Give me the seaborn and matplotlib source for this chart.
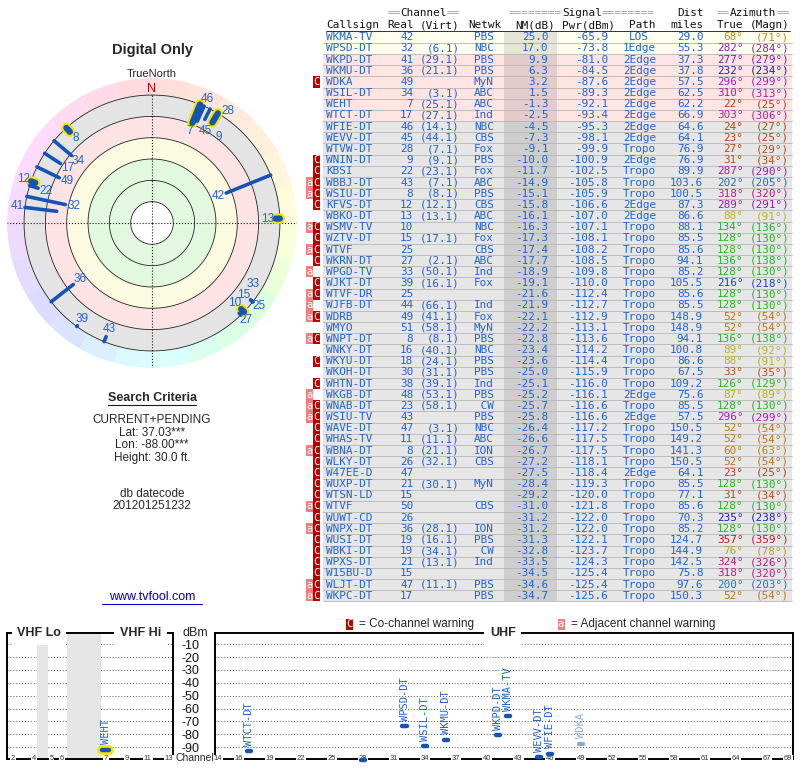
import colorsys

import matplotlib
matplotlib.use("Agg")
import matplotlib.pyplot as plt
import numpy as np
import seaborn as sns
from matplotlib.patches import Rectangle
from matplotlib.transforms import blended_transform_factory

# ---- station table ----
callsigns = ["WKMA-TV", "WPSD-DT", "WKPD-DT", "WKMU-DT", "WDKA", "WSIL-DT", "WEHT", "WTCT-DT",
             "WFIE-DT", "WEVV-DT", "WTVW-DT", "WNIN-DT", "KBSI", "WBBJ-DT", "WSIU-DT", "KFVS-DT",
             "WBKO-DT", "WSMV-TV", "WZTV-DT", "WTVF", "WKRN-DT", "WPGD-TV", "WJKT-DT", "WTVF-DR",
             "WJFB-DT", "WDRB", "WMYO", "WNPT-DT", "WNKY-DT", "WKYU-DT", "WKOH-DT", "WHTN-DT",
             "WKGB-DT", "WNAB-DT", "WSIU-TV", "WAVE-DT", "WHAS-TV", "WBNA-DT", "WLKY-DT", "W47EE-D",
             "WUXP-DT", "WTSN-LD", "WTVF", "WUWT-CD", "WNPX-DT", "WUSI-DT", "WBKI-DT", "WPXS-DT",
             "W15BU-D", "WLJT-DT", "WKPC-DT"]
real_ch = [42, 32, 41, 36, 49, 34, 7, 17, 46, 45, 28, 9, 22, 43, 8, 12, 13, 10, 15, 25,
           27, 33, 39, 25, 44, 49, 51, 8, 16, 18, 30, 38, 48, 23, 43, 47, 11, 8, 26, 47,
           21, 15, 50, 26, 36, 19, 19, 21, 15, 47, 17]
virt_ch = ["", "6.1", "29.1", "21.1", "", "3.1", "25.1", "27.1", "14.1", "44.1",
           "7.1", "9.1", "23.1", "7.1", "8.1", "12.1", "13.1", "", "17.1", "",
           "2.1", "50.1", "16.1", "", "66.1", "41.1", "58.1", "8.1", "40.1", "24.1",
           "31.1", "39.1", "53.1", "58.1", "", "3.1", "11.1", "21.1", "32.1", "",
           "30.1", "", "", "", "28.1", "16.1", "34.1", "13.1", "", "11.1", ""]
networks = ["PBS", "NBC", "PBS", "PBS", "MyN", "ABC", "ABC", "Ind", "NBC", "CBS",
            "Fox", "PBS", "Fox", "ABC", "PBS", "CBS", "ABC", "NBC", "Fox", "CBS",
            "ABC", "Ind", "Fox", "", "Ind", "Fox", "MyN", "PBS", "NBC", "PBS",
            "PBS", "Ind", "PBS", "CW", "PBS", "NBC", "ABC", "ION", "CBS", "",
            "MyN", "", "CBS", "", "ION", "PBS", "CW", "Ind", "", "PBS", "PBS"]
nm_db = [25.0, 17.0, 9.9, 6.3, 3.2, 1.5, -1.3, -2.5, -4.5, -7.3,
         -9.1, -10.0, -11.7, -14.9, -15.1, -15.8, -16.1, -16.3, -17.3, -17.4,
         -17.7, -18.9, -19.1, -21.6, -21.9, -22.1, -22.2, -22.8, -23.4, -23.6,
         -25.0, -25.1, -25.2, -25.7, -25.8, -26.4, -26.6, -26.7, -27.2, -27.5,
         -28.4, -29.2, -31.0, -31.2, -31.2, -31.3, -32.8, -33.5, -34.5, -34.6, -34.7]
pwr_dbm = [-65.9, -73.8, -81.0, -84.5, -87.6, -89.3, -92.1, -93.4, -95.3, -98.1,
           -99.9, -100.9, -102.5, -105.8, -105.9, -106.6, -107.0, -107.1, -108.1, -108.2,
           -108.5, -109.8, -110.0, -112.4, -112.7, -112.9, -113.1, -113.6, -114.2, -114.4,
           -115.9, -116.0, -116.1, -116.6, -116.6, -117.2, -117.5, -117.5, -118.1, -118.4,
           -119.3, -120.0, -121.8, -122.0, -122.0, -122.1, -123.7, -124.3, -125.4, -125.4, -125.6]
paths = ["LOS", "1Edge", "2Edge", "2Edge", "2Edge", "2Edge", "2Edge", "2Edge", "2Edge", "2Edge",
         "Tropo", "2Edge", "Tropo", "Tropo", "Tropo", "2Edge", "2Edge", "Tropo", "Tropo", "Tropo",
         "Tropo", "Tropo", "Tropo", "Tropo", "Tropo", "Tropo", "Tropo", "Tropo", "Tropo", "Tropo",
         "Tropo", "Tropo", "2Edge", "Tropo", "2Edge", "Tropo", "Tropo", "Tropo", "Tropo", "2Edge",
         "Tropo", "Tropo", "Tropo", "Tropo", "Tropo", "Tropo", "Tropo", "Tropo", "Tropo", "Tropo", "Tropo"]
dist_miles = [29.0, 55.3, 37.3, 37.8, 57.5, 62.5, 62.2, 66.9, 64.6, 64.1,
              76.9, 76.9, 89.9, 103.6, 100.5, 87.3, 86.6, 88.1, 85.5, 85.6,
              94.1, 85.2, 105.5, 85.6, 85.5, 148.9, 148.9, 94.1, 100.8, 86.6,
              67.5, 109.2, 75.6, 85.5, 57.5, 150.5, 149.2, 141.3, 150.5, 64.1,
              85.5, 77.1, 85.6, 70.3, 85.2, 124.7, 144.9, 142.5, 75.8, 97.6, 150.3]
az_true = [68, 282, 277, 232, 296, 310, 22, 303, 24, 23,
           27, 31, 287, 202, 318, 289, 88, 134, 128, 128,
           136, 128, 216, 128, 128, 52, 52, 136, 89, 88,
           33, 126, 87, 128, 296, 52, 52, 60, 52, 23,
           128, 31, 128, 235, 128, 357, 76, 324, 318, 200, 52]
az_magn = [71, 284, 279, 234, 299, 313, 25, 306, 27, 25,
           29, 34, 290, 205, 320, 291, 91, 136, 130, 130,
           138, 130, 218, 130, 130, 54, 54, 138, 92, 91,
           35, 129, 89, 130, 299, 54, 54, 63, 54, 25,
           130, 34, 130, 238, 130, 359, 78, 326, 320, 203, 54]
flags = ["", "", "", "", "C", "", "", "", "", "",
         "", "C", "C", "aC", "aC", "C", "", "aC", "C", "aC",
         "C", "a", "C", "aC", "a", "aC", "", "aC", "", "C",
         "", "C", "a", "aC", "aC", "C", "C", "aC", "C", "C",
         "C", "C", "aC", "C", "aC", "C", "C", "C", "C", "aC", "aC"]

vhf_ticks = [2, 4, 5, 6, 7, 9, 11, 13]
uhf_ticks = [14, 16, 19, 22, 25, 28, 31, 34, 37, 40, 43, 46, 49, 52, 55, 58, 61, 64, 67, 69]
dbm_ticks = [-90, -80, -70, -60, -50, -40, -30, -20, -10]

sns.set_theme(style="white")
plt.rcParams["font.family"] = ["Liberation Sans", "DejaVu Sans"]
MONO = "DejaVu Sans Mono"
TXT_BLUE = "#2163cf"
MARK = "#1553b6"
W, H = 800, 768
CHAR_W = 0.602 * 7.9 * 100 / 72  # width of one mono glyph in px
PX_PER_R = 145 / 136  # polar radial unit in px


def px_rect(x0, y0, x1, y1):
    return [x0 / W, 1 - y1 / H, (x1 - x0) / W, (y1 - y0) / H]


def az_color(az, s=0.85, v=0.72):
    h = np.interp(az % 360, [0, 90, 130, 230, 300, 360], [0, 60, 120, 240, 300, 360]) / 360
    return colorsys.hsv_to_rgb(h, s, v)


def vhf_pos(ch):
    # channel centre in MHz, with the FM/air band squeezed out
    if ch <= 4:
        return 57 + 6 * (ch - 2)
    if ch <= 6:
        return 79 + 6 * (ch - 5)
    return 110 + 6 * (ch - 7)


fig = plt.figure(figsize=(W / 100, H / 100), dpi=100)

# ---- polar plot ----
pol = fig.add_axes(px_rect(7, 78, 297, 368), projection="polar")
pol.set_theta_zero_location("N")
pol.set_theta_direction(-1)
pol.axis("off")
seg = np.arange(0, 360, 15)
pol.bar(np.radians(seg + 7.5), 16, width=np.radians(15), bottom=120,
        color=[az_color(a + 7.5, 0.14, 1.0) for a in seg], linewidth=0)
for lo, hi, c in [(100, 120, "#e4e4e4"), (80, 100, "#fde3e3"), (60, 80, "#fbfbe1"),
                  (20, 60, "#e3f9df"), (0, 20, "white")]:
    pol.bar(0, hi - lo, width=2 * np.pi, bottom=lo, color=c, linewidth=0)
ring = np.linspace(0, 2 * np.pi, 361)
for r in (20, 40, 60, 80, 100, 120):
    pol.plot(ring, np.full_like(ring, r), color="#222222", lw=0.6)
pol.plot([0, 0], [0, 121], ls=":", color="k", lw=0.8)
for deg in (90, 180, 270):
    pol.plot([np.radians(deg)] * 2, [0, 136], ls=":", color="k", lw=0.8)
pol.text(0, 126, "N", color="#cc0000", ha="center", va="center", fontsize=9)

placed = []  # label boxes in px around the centre: (x, y, half width)
for i, nm in enumerate(nm_db):
    if nm <= -20:
        continue
    th = np.radians(az_true[i])
    r_in = 100 - nm
    if real_ch[i] <= 13:
        pol.plot([th, th], [120, r_in], color="#f5e400", lw=7.5, solid_capstyle="round", zorder=4)
        pol.plot([th, th], [120, r_in], color=MARK, lw=4.5, solid_capstyle="round", zorder=5)
    else:
        pol.plot([th, th], [120, r_in], color=MARK, lw=2.6, solid_capstyle="round", zorder=5)
    # keep crowded labels apart: try inside the end, then outside the ring, then sideways
    lab = str(real_ch[i])
    hw = 2.4 * len(lab)
    cands = [(r_in - 8, 0), (127, 0), (r_in - 8, 7), (127, 7), (r_in - 8, -7), (127, -7),
             (r_in - 17, 0), (r_in - 17, 8)]
    for rr, dth in cands:
        t = th + np.radians(dth)
        x, y = rr * PX_PER_R * np.sin(t), rr * PX_PER_R * np.cos(t)
        if all(abs(x - px) > hw + phw or abs(y - py) > 7 for px, py, phw in placed):
            break
    placed.append((x, y, hw))
    pol.text(t, rr, lab, color=TXT_BLUE, ha="center", va="center", fontsize=8.5, zorder=6)
pol.set_ylim(0, 136)

# ---- channel plots ----
ax_v = fig.add_axes(px_rect(7, 633, 173, 759))
ax_u = fig.add_axes(px_rect(215, 633, 793, 759))
ax_v.set_xlim(53.6, 148.4)
ax_u.set_xlim(13.71, 69.48)
for ax in (ax_v, ax_u):
    ax.set_ylim(-99.3, -1.2)
    ax.set_yticks(dbm_ticks)
    ax.set_xticks([])
    ax.grid(axis="y", color="#555555", ls=(0, (1, 2)), lw=0.7)
    ax.tick_params(length=0)
    for s in ax.spines.values():
        s.set_visible(True)
        s.set_color("black")
        s.set_linewidth(1.4)
ax_v.set_yticklabels([])
ax_u.set_yticklabels([str(v) for v in dbm_ticks])
ax_u.tick_params(axis="y", pad=11, labelsize=9, labelcolor="#111111")
ax_v.axvspan(71, 77, color="#e6e6e6", zorder=1, lw=0)
ax_v.axvspan(88, 107, color="#e6e6e6", zorder=1, lw=0)

for ax, ticks, pos in ((ax_v, vhf_ticks, vhf_pos), (ax_u, uhf_ticks, lambda c: c)):
    tr = blended_transform_factory(ax.transData, ax.transAxes)
    for ch in ticks:
        ax.text(pos(ch), 0, str(ch), transform=tr, ha="center", va="center", fontsize=5.5,
                color="#333333", bbox=dict(fc="white", ec="none", pad=0.6), zorder=3, clip_on=False)

for ax, x, t in ((ax_v, 0.193, "VHF Lo"), (ax_v, 0.804, "VHF Hi"), (ax_u, 0.498, "UHF")):
    ax.text(x, 1, t, transform=ax.transAxes, ha="center", va="center", fontsize=9,
            fontweight="bold", bbox=dict(fc="white", ec="none", pad=4), zorder=3, clip_on=False)

for i, p in enumerate(pwr_dbm):
    if p <= -100:
        continue
    ch = real_ch[i]
    faded = "C" in flags[i]
    mcol = "#8daad6" if faded else MARK
    tcol = "#8fb0dc" if faded else TXT_BLUE
    if ch <= 13:
        ax, x, hw = ax_v, vhf_pos(ch), 1.9
        ax.plot([x - hw, x + hw], [p, p], color="#f5e400", lw=7, solid_capstyle="round",
                zorder=4, clip_on=False)
    else:
        ax, x, hw = ax_u, ch, 0.2
    ax.plot([x - hw, x + hw], [p, p], color=mcol, lw=3.2, solid_capstyle="round",
            zorder=5, clip_on=False)
    ax.annotate(callsigns[i], (x, p), xytext=(0, 4), textcoords="offset points", rotation=90,
                ha="center", va="bottom", fontsize=7.5, family=MONO, color=tcol, zorder=6)

# ---- overlay: table and text ----
ov = fig.add_axes([0, 0, 1, 1])
ov.set_zorder(5)
ov.set_xlim(0, W)
ov.set_ylim(H, 0)
ov.axis("off")

ov.text(152, 50, "Digital Only", ha="center", va="center", fontsize=10.5, fontweight="bold")
ov.text(152, 74, "TrueNorth", ha="center", va="center", fontsize=8)
ov.text(152, 398, "Search Criteria", ha="center", va="center", fontsize=9, fontweight="bold")
ov.plot([108, 196], [404.5, 404.5], color="k", lw=0.8)
for y, t in [(420, "CURRENT+PENDING"), (432.5, "Lat: 37.03***"), (445, "Lon: -88.00***"),
             (457.5, "Height: 30.0 ft."), (494, "db datecode"), (506, "201201251232")]:
    ov.text(152, y, t, ha="center", va="center", fontsize=8.5)
ov.text(152, 597.5, "www.tvfool.com", ha="center", va="center", fontsize=9, color="#0000cc")
ov.plot([102, 202], [603.5, 603.5], color="#0000cc", lw=0.8)

mono = dict(family=MONO, fontsize=7.9, va="center")
ROW0, ROWH = 37.3, 11.17
for x, word, pad in [(423.7, "Channel", "=="), (581.7, "Signal", "========"),
                     (753.3, "Azimuth", "==")]:
    half = len(word) * CHAR_W / 2
    ov.text(x, 13.5, word, ha="center", color="#111111", **mono)
    ov.text(x - half, 13.5, pad, ha="right", color="#9a9a9a", **mono)
    ov.text(x + half, 13.5, pad, ha="left", color="#9a9a9a", **mono)
ov.text(703.3, 13.5, "Dist", ha="right", color="#111111", **mono)
for x, ha, t in [(326, "left", "Callsign"), (387.3, "left", "Real"), (460, "right", "(Virt)"),
                 (468.3, "left", "Netwk"), (555, "right", "NM(dB)"), (615, "right", "Pwr(dBm)"),
                 (642.5, "center", "Path"), (703.3, "right", "miles"), (743.3, "right", "True"),
                 (789.3, "right", "(Magn)")]:
    ov.text(x, 25.5, t, ha=ha, color="#111111", **mono)
ov.plot([326, 790], [31.2, 31.2], color="#111111", lw=0.6)

for i, cs in enumerate(callsigns):
    y = ROW0 + i * ROWH
    nm = nm_db[i]
    zone = "#fffff0" if nm >= 15 else ("#ffe4e4" if nm >= -3 else "#e6e6e6")
    ov.add_patch(Rectangle((322.5, y - ROWH / 2), 469, ROWH, fc=zone, ec="none"))
    ov.add_patch(Rectangle((504, y - ROWH / 2), 53.3, ROWH, fc="black", alpha=0.1, ec="none"))
    ov.plot([322.5, 791.5], [y + ROWH / 2] * 2, color="#b5b5b5", lw=0.6)
    if "a" in flags[i]:
        ov.add_patch(Rectangle((305.8, y - ROWH / 2), 7, ROWH, fc="#f08080", ec="none"))
        ov.text(309.3, y, "a", ha="center", color="white", family=MONO, fontsize=7.5, va="center")
    if "C" in flags[i]:
        ov.add_patch(Rectangle((312.8, y - ROWH / 2), 7.2, ROWH, fc="#bb0000", ec="none"))
        ov.text(316.4, y, "C", ha="center", color="white", family=MONO, fontsize=7.5, va="center")
    ov.text(326, y, cs, ha="left", color=TXT_BLUE, **mono)
    ov.text(413.3, y, str(real_ch[i]), ha="right", color=TXT_BLUE, **mono)
    if virt_ch[i]:
        ov.text(460, y, f"({virt_ch[i]})", ha="right", color=TXT_BLUE, **mono)
    if networks[i]:
        ov.text(474, y, networks[i].rjust(3), ha="left", color=TXT_BLUE, **mono)
    ov.text(548.3, y, f"{nm:.1f}", ha="right", color=TXT_BLUE, **mono)
    ov.text(608.3, y, f"{pwr_dbm[i]:.1f}", ha="right", color=TXT_BLUE, **mono)
    ov.text(639.3, y, paths[i], ha="center", color=TXT_BLUE, **mono)
    ov.text(703.3, y, f"{dist_miles[i]:.1f}", ha="right", color=TXT_BLUE, **mono)
    ac = az_color(az_true[i])
    ov.text(743.3, y, f"{az_true[i]}°", ha="right", color=ac, **mono)
    ov.text(789.3, y, f"({az_magn[i]}°)", ha="right", color=ac, **mono)

# legend and axis captions of the channel plots
ov.add_patch(Rectangle((346, 618.5), 7, 11, fc="#bb0000", ec="none"))
ov.text(349.5, 624, "C", ha="center", va="center", color="white", family=MONO, fontsize=7.5)
ov.text(359, 624, "= Co-channel warning", ha="left", va="center", fontsize=8.5)
ov.add_patch(Rectangle((557.5, 618.5), 7, 11, fc="#f08080", ec="none"))
ov.text(561, 624, "a", ha="center", va="center", color="white", family=MONO, fontsize=7.5)
ov.text(571, 624, "= Adjacent channel warning", ha="left", va="center", fontsize=8.5)
ov.text(195, 632.5, "dBm", ha="center", va="center", fontsize=9)
ov.text(195, 758, "Channel", ha="center", va="center", fontsize=7.5)

fig.savefig("out.png", dpi=100)
